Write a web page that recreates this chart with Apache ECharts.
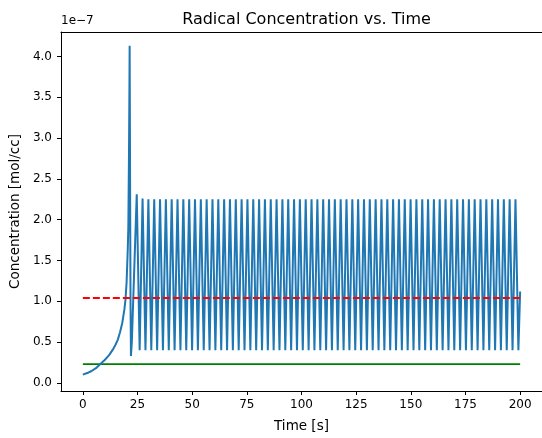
<!DOCTYPE html>
<html>
<head>
<meta charset="utf-8">
<script src="https://cdn.jsdelivr.net/npm/echarts@6/dist/echarts.min.js"></script>
<style>html,body{margin:0;padding:0;background:#fff}#c{width:542px;height:438px}</style>
</head>
<body>
<div id="c"></div>
<script>
// ---- data (concentration in units of 1e-7 mol/cc) ----
const rampTime = [0, 2, 4, 6, 8, 10, 12, 14, 15, 16, 17, 18, 19, 19.5, 20, 20.5, 20.8, 21.1, 21.3, 21.4, 21.6, 21.8, 22.0, 22.4];
const rampConc = [0.10, 0.12, 0.145, 0.18, 0.23, 0.28, 0.34, 0.42, 0.47, 0.53, 0.62, 0.73, 0.90, 1.02, 1.23, 1.6, 1.9, 2.8, 3.6, 4.13, 2.5, 1.0, 0.33, 0.5];

const peakTimes = [24.65, 27.31, 29.97, 32.64, 35.30, 37.97, 40.63, 43.30, 45.96, 48.63, 51.29, 53.96, 56.62, 59.29, 61.95, 64.62, 67.28, 69.95, 72.61, 75.28, 77.94, 80.61, 83.27, 85.94, 88.60, 91.27, 93.93, 96.60, 99.26, 101.93, 104.59, 107.26, 109.92, 112.59, 115.25, 117.92, 120.58, 123.25, 125.91, 128.58, 131.24, 133.91, 136.57, 139.24, 141.90, 144.57, 147.23, 149.90, 152.56, 155.23, 157.89, 160.56, 163.22, 165.89, 168.55, 171.22, 173.88, 176.55, 179.21, 181.88, 184.54, 187.21, 189.87, 192.54, 195.20, 197.87];
const peakConc = [2.31, 2.26, 2.25, 2.25, 2.25, 2.25, 2.25, 2.25, 2.25, 2.25, 2.25, 2.25, 2.25, 2.25, 2.25, 2.25, 2.25, 2.25, 2.25, 2.25, 2.25, 2.25, 2.25, 2.25, 2.25, 2.25, 2.25, 2.25, 2.25, 2.25, 2.25, 2.25, 2.25, 2.25, 2.25, 2.25, 2.25, 2.25, 2.25, 2.25, 2.25, 2.25, 2.25, 2.25, 2.25, 2.25, 2.25, 2.25, 2.25, 2.25, 2.25, 2.25, 2.25, 2.25, 2.25, 2.25, 2.25, 2.25, 2.25, 2.25, 2.25, 2.25, 2.25, 2.25, 2.25, 2.25];
const troughTimes = [25.98, 28.64, 31.30, 33.97, 36.63, 39.30, 41.96, 44.63, 47.29, 49.96, 52.62, 55.29, 57.95, 60.62, 63.28, 65.95, 68.61, 71.28, 73.94, 76.61, 79.27, 81.94, 84.60, 87.27, 89.93, 92.60, 95.26, 97.93, 100.59, 103.26, 105.92, 108.59, 111.25, 113.92, 116.58, 119.25, 121.91, 124.58, 127.24, 129.91, 132.57, 135.24, 137.90, 140.57, 143.23, 145.90, 148.56, 151.23, 153.89, 156.56, 159.22, 161.89, 164.55, 167.22, 169.88, 172.55, 175.21, 177.88, 180.54, 183.21, 185.87, 188.54, 191.20, 193.87, 196.53, 199.20];
const troughConc = [0.40, 0.40, 0.40, 0.40, 0.40, 0.40, 0.40, 0.40, 0.40, 0.40, 0.40, 0.40, 0.40, 0.40, 0.40, 0.40, 0.40, 0.40, 0.40, 0.40, 0.40, 0.40, 0.40, 0.40, 0.40, 0.40, 0.40, 0.40, 0.40, 0.40, 0.40, 0.40, 0.40, 0.40, 0.40, 0.40, 0.40, 0.40, 0.40, 0.40, 0.40, 0.40, 0.40, 0.40, 0.40, 0.40, 0.40, 0.40, 0.40, 0.40, 0.40, 0.40, 0.40, 0.40, 0.40, 0.40, 0.40, 0.40, 0.40, 0.40, 0.40, 0.40, 0.40, 0.40, 0.40, 0.40];
const endTime = [200.0];
const endConc = [1.12];

const redLineTime = [0, 200];
const redLineConc = [1.04, 1.04];
const greenLineTime = [0, 200];
const greenLineConc = [0.23, 0.23];

const xTicks = [0, 25, 50, 75, 100, 125, 150, 175, 200];
const yTicks = [0.0, 0.5, 1.0, 1.5, 2.0, 2.5, 3.0, 3.5, 4.0];

// ---- build ----
const blue = [];
rampTime.forEach((t, i) => blue.push([t, rampConc[i]]));
peakTimes.forEach((t, i) => { blue.push([t, peakConc[i]]); blue.push([troughTimes[i], troughConc[i]]); });
endTime.forEach((t, i) => blue.push([t, endConc[i]]));
const red = redLineTime.map((t, i) => [t, redLineConc[i]]);
const green = greenLineTime.map((t, i) => [t, greenLineConc[i]]);

const FONT = 'DejaVu Sans';
const chart = echarts.init(document.getElementById('c'), null, {renderer: 'canvas'});
chart.setOption({
  animation: false,
  backgroundColor: '#fff',
  title: {
    text: 'Radical Concentration vs. Time',
    left: 301.5, top: 7, textAlign: 'center',
    textStyle: {fontFamily: FONT, fontSize: 16, fontWeight: 'normal', color: '#000'}
  },
  graphic: [{
    type: 'text', left: 61, top: 15,
    style: {text: '1e\u22127', fontFamily: FONT, fontSize: 12, fill: '#000'}
  }],
  grid: {left: 60, right: -4, top: 32, bottom: 45, show: false},
  xAxis: [{
    type: 'value', min: -10, max: 210,
    name: 'Time [s]', nameLocation: 'middle', nameGap: 28,
    nameTextStyle: {fontFamily: FONT, fontSize: 13.5, color: '#000'},
    splitLine: {show: false},
    axisLine: {onZero: false, lineStyle: {color: '#000', width: 1}},
    axisTick: {length: 4, inside: false, lineStyle: {color: '#000'}, customValues: xTicks},
    axisLabel: {fontFamily: FONT, fontSize: 12, color: '#000', margin: 8, customValues: xTicks, formatter: v => String(v)}
  }, {
    type: 'value', position: 'top', min: -10, max: 210,
    splitLine: {show: false},
    axisLine: {show: true, onZero: false, lineStyle: {color: '#000', width: 1}},
    axisTick: {show: false}, axisLabel: {show: false}
  }],
  yAxis: {
    type: 'value', min: -0.1, max: 4.3,
    name: 'Concentration [mol/cc]', nameLocation: 'middle', nameGap: 35,
    nameTextStyle: {fontFamily: FONT, fontSize: 13.5, color: '#000'},
    splitLine: {show: false},
    axisLine: {show: true, onZero: false, lineStyle: {color: '#000', width: 1}},
    axisTick: {show: true, length: 4, inside: false, lineStyle: {color: '#000'}, customValues: yTicks},
    axisLabel: {fontFamily: FONT, fontSize: 12, color: '#000', margin: 9, customValues: yTicks, formatter: v => v.toFixed(1)}
  },
  series: [
    {type: 'line', data: blue, showSymbol: false, symbol: 'none', lineStyle: {color: '#1f77b4', width: 2}, z: 3},
    {type: 'line', data: red, showSymbol: false, symbol: 'none', lineStyle: {color: '#ff0000', width: 1.8, type: [7, 3]}, z: 4},
    {type: 'line', data: green, showSymbol: false, symbol: 'none', lineStyle: {color: '#008000', width: 1.8}, z: 2}
  ]
});
</script>
</body>
</html>
